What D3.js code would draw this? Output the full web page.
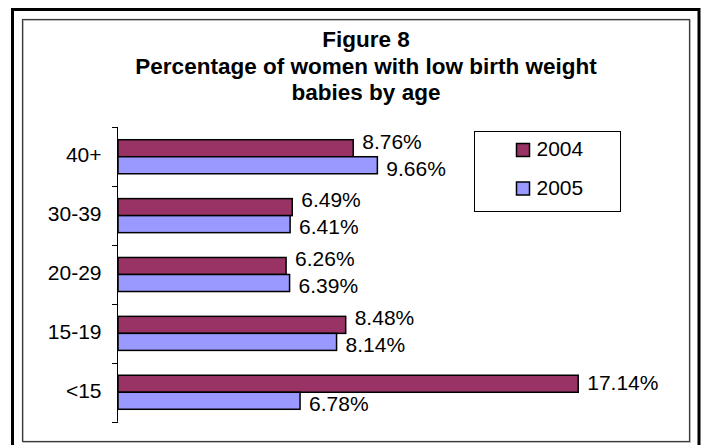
<!DOCTYPE html>
<html>
<head>
<meta charset="utf-8">
<script src="https://cdn.jsdelivr.net/npm/d3@7"></script>
<style>
  body { margin: 0; background: #fff; }
  text { font-family: Arial, "Liberation Sans", sans-serif; fill: #000; }
</style>
</head>
<body>
<div id="chart"></div>
<script>
// data
let ageGroups = ["40+", "30-39", "20-29", "15-19", "<15"];
let years = ["2004", "2005"];
let values2004 = [8.76, 6.49, 6.26, 8.48, 17.14];
let values2005 = [9.66, 6.41, 6.39, 8.14, 6.78];
let titleLines = ["Figure 8", "Percentage of women with low birth weight", "babies by age"];

let width = 705, height = 445;
let color = d3.scaleOrdinal().domain(years).range(["#993366", "#9999ff"]);

let svg = d3.select("#chart")
    .append("svg")
    .attr("width", width)
    .attr("height", height);

// frames
svg.append("rect")
    .attr("x", 12.5).attr("y", 9.5)
    .attr("width", 686.5).attr("height", 440)
    .attr("fill", "none").attr("stroke", "#000").attr("stroke-width", 3);
svg.append("rect")
    .attr("x", 23.5).attr("y", 20.5)
    .attr("width", 667).attr("height", 422)
    .attr("fill", "none").attr("stroke", "#c8c8c8").attr("stroke-width", 1);
svg.append("rect")
    .attr("x", 22.5).attr("y", 19.5)
    .attr("width", 667).attr("height", 422)
    .attr("fill", "none").attr("stroke", "#3a3a3a").attr("stroke-width", 1.2);

// title
svg.append("g").selectAll("text")
    .data(titleLines)
    .enter().append("text")
    .attr("x", 366)
    .attr("y", (d, i) => [47, 74, 100][i])
    .attr("text-anchor", "middle")
    .style("font-weight", "bold")
    .style("font-size", "22.5px")
    .text(d => d);

let rows = ageGroups.map((a, i) => ({ age: a, vals: [values2004[i], values2005[i]] }));

let x = d3.scaleLinear().domain([0, 20]).range([118, 655]);
let y = d3.scaleBand().domain(ageGroups).range([127.3, 421.7]);
let ySub = d3.scaleBand().domain(years).range([0, y.bandwidth()]).paddingOuter(0.73).paddingInner(0);

// axis line + ticks at band boundaries
let axis = svg.append("g");
axis.append("line")
    .attr("x1", x(0) - 0.5).attr("x2", x(0) - 0.5)
    .attr("y1", y.range()[0]).attr("y2", y.range()[1])
    .attr("stroke", "#000").attr("stroke-width", 1);
let bounds = ageGroups.map(a => y(a)).concat([y.range()[1]]);
axis.selectAll(".tick")
    .data(bounds)
    .enter().append("line")
    .attr("x1", x(0) - 6).attr("x2", x(0))
    .attr("y1", d => Math.round(d) + 0.5).attr("y2", d => Math.round(d) + 0.5)
    .attr("stroke", "#000").attr("stroke-width", 1);
axis.selectAll(".lbl")
    .data(ageGroups)
    .enter().append("text")
    .attr("x", 101.5)
    .attr("y", d => y(d) + y.bandwidth() / 2 - 2)
    .attr("dy", "0.35em")
    .attr("text-anchor", "end")
    .style("font-size", "21px")
    .text(d => d);

// bars
let groups = svg.selectAll(".grp")
    .data(rows)
    .enter().append("g")
    .attr("transform", d => `translate(0,${y(d.age)})`);

groups.selectAll("rect")
    .data(d => d.vals.map((v, j) => ({ year: years[j], v: v })))
    .enter().append("rect")
    .attr("x", x(0))
    .attr("y", d => ySub(d.year))
    .attr("width", d => x(d.v) - x(0))
    .attr("height", ySub.bandwidth())
    .attr("fill", d => color(d.year))
    .attr("stroke", "#000")
    .attr("stroke-width", 1.5);

// value labels, nudged apart when they would collide like in the original
groups.each(function(d) {
    let g = d3.select(this);
    let close = Math.abs(d.vals[0] - d.vals[1]) < 3;
    d.vals.forEach((v, j) => {
        let cy = ySub(years[j]) + ySub.bandwidth() / 2;
        let shift = j == 0 ? (close ? -7 : -1) : 3;
        g.append("text")
            .attr("x", x(v) + 9)
            .attr("y", cy + shift)
            .attr("dy", "0.35em")
            .style("font-size", "21px")
            .text(v.toFixed(2) + "%");
    });
});

// legend
let legend = svg.append("g").attr("transform", "translate(474.5,131.5)");
legend.append("rect")
    .attr("width", 146).attr("height", 80)
    .attr("fill", "#fff").attr("stroke", "#000").attr("stroke-width", 1);
let items = legend.selectAll(".item")
    .data(years)
    .enter().append("g")
    .attr("transform", (d, i) => `translate(42,${12 + i * 38.5})`);
items.append("rect")
    .attr("width", 13).attr("height", 13)
    .attr("fill", d => color(d))
    .attr("stroke", "#000").attr("stroke-width", 1.5);
items.append("text")
    .attr("x", 20).attr("y", 12.5)
    .style("font-size", "21px")
    .text(d => d);
</script>
</body>
</html>
